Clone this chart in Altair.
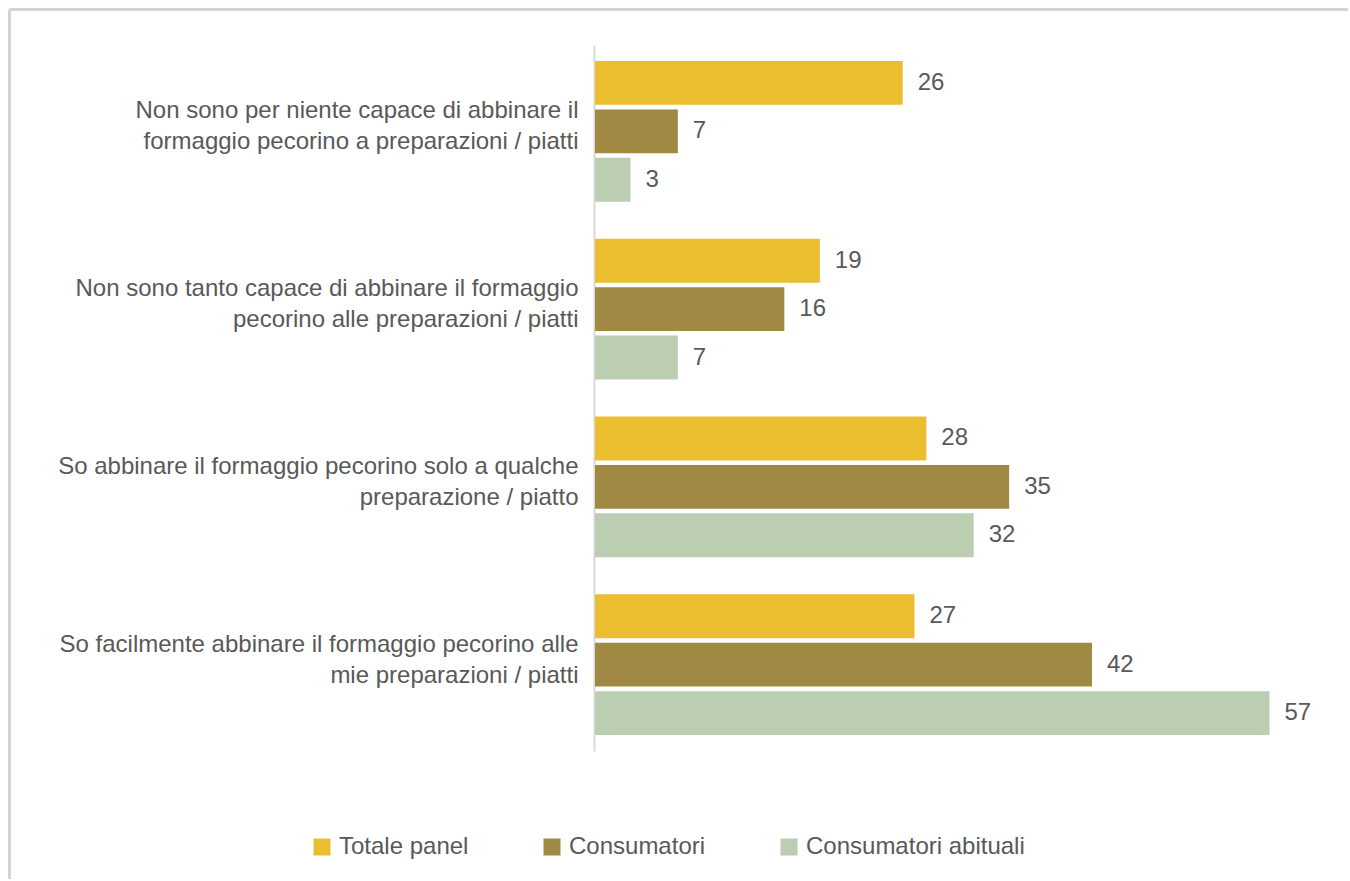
import altair as alt
import pandas as pd

categories = [
    "Non sono per niente capace di abbinare il|formaggio pecorino a preparazioni / piatti",
    "Non sono tanto capace di abbinare il formaggio|pecorino alle preparazioni / piatti",
    "So abbinare il formaggio pecorino solo a qualche|preparazione / piatto",
    "So facilmente abbinare il formaggio pecorino alle|mie preparazioni / piatti",
]
series = ["Totale panel", "Consumatori", "Consumatori abituali"]
totale_panel = [26, 19, 28, 27]
consumatori = [7, 16, 35, 42]
consumatori_abituali = [3, 7, 32, 57]
colors = ["#EBBE30", "#A08943", "#BBCEB2"]

rows = []
for i, c in enumerate(categories):
    for s, vals in zip(series, [totale_panel, consumatori, consumatori_abituali]):
        rows.append({"cat": c, "series": s, "value": vals[i]})
df = pd.DataFrame(rows)

FONT = "Liberation Sans"
TXT = "#595959"
FS = 24

y_enc = alt.Y(
    "cat:N",
    sort=categories,
    title=None,
    scale=alt.Scale(paddingInner=0.1826, paddingOuter=0.077),
    axis=alt.Axis(
        labelExpr="split(datum.label, '|')",
        ticks=False,
        domainColor="#d9d9d9",
        domainWidth=2,
        offset=1,
        labelFontSize=FS,
        labelColor=TXT,
        labelFont=FONT,
        labelPadding=16,
        labelLimit=800,
        labelLineHeight=31,
        labelOffset=-20,
    ),
)
yoff_enc = alt.YOffset(
    "series:N",
    sort=series,
    scale=alt.Scale(paddingInner=0.093, paddingOuter=0.0465),
)
x_enc = alt.X("value:Q", axis=None, scale=alt.Scale(domain=[0, 60]))

bars = alt.Chart(df).mark_bar().encode(
    y=y_enc,
    yOffset=yoff_enc,
    x=x_enc,
    color=alt.Color(
        "series:N",
        sort=series,
        scale=alt.Scale(domain=series, range=colors),
        legend=alt.Legend(
            title=None,
            orient="none",
            legendX=-285,
            legendY=790,
            direction="horizontal",
            symbolType="square",
            symbolSize=289,
            symbolStrokeWidth=0,
            labelFontSize=FS,
            labelFont=FONT,
            labelColor=TXT,
            labelLimit=500,
            labelOffset=5,
            columnPadding=71,
        ),
    ),
)

labels = alt.Chart(df).mark_text(
    align="left", baseline="middle", dx=15, fontSize=FS, font=FONT, color=TXT
).encode(y=y_enc, yOffset=yoff_enc, x=x_enc, text=alt.Text("value:Q", format=".0f"))

frame_df = pd.DataFrame({"k": [0]})
frame_top = alt.Chart(frame_df).mark_rule(color="#d4d4d4", strokeWidth=3).encode(
    x=alt.value(-585.5), x2=alt.value(753), y=alt.value(-35.5)
)
frame_left = alt.Chart(frame_df).mark_rule(color="#d4d4d4", strokeWidth=3).encode(
    x=alt.value(-585.5), y=alt.value(-35.5), y2=alt.value(834)
)

chart = (
    alt.layer(bars, labels, frame_top, frame_left)
    .properties(
        width=710,
        height=706,
        padding={"left": 8, "top": 8, "right": 0, "bottom": 0},
        background="white",
    )
    .configure(font=FONT, view=alt.ViewConfig(stroke="transparent", strokeWidth=0))
)

chart.save("out.html", embed_options={"renderer": "svg", "actions": False})
